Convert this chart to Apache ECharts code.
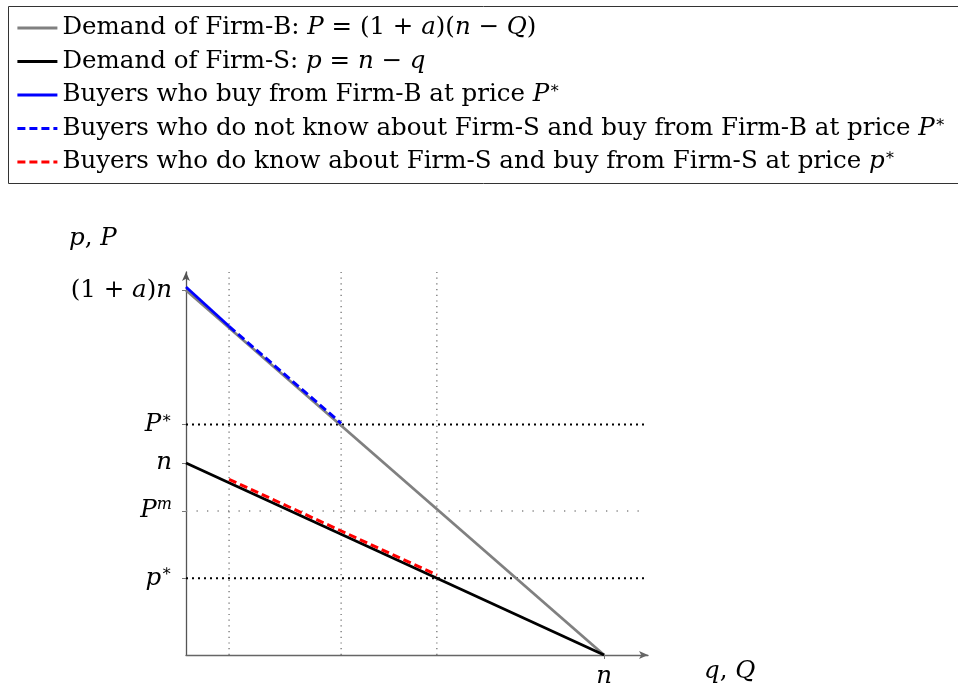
<!DOCTYPE html>
<html>
<head>
<meta charset="utf-8">
<script src="https://cdn.jsdelivr.net/npm/echarts@6/dist/echarts.min.js"></script>
<style>
  html, body { margin: 0; padding: 0; background: #fff; }
  #chart { width: 958px; height: 685px; }
</style>
</head>
<body>
<div id="chart"></div>
<script>
// Market model: n buyers, Firm-B demand P = (1+a)(n-Q), Firm-S demand p = n - q
const N = 1;
// quantities marking the guide lines: informed share, Q*, q*
const qGuides = [0.103, 0.371, 0.6];
// price levels on the vertical axis
const priceValues = [1.9, 1.2, 1.0, 0.75, 0.4];
const priceLabels = ['(1+a)n', 'P*', 'n', 'Pm', 'p*'];
// demand curves (endpoints)
const demandB = [[0, 1.9], [1, 0]];
const demandS = [[0, 1.0], [1, 0]];
// buyer segments, drawn just above the demand curves
const buyersB = [[0, 1.917], [0.103, 1.712]];
const buyersBUninformed = [[0.103, 1.712], [0.371, 1.207]];
const buyersSInformed = [[0.103, 0.915], [0.6, 0.417]];
// horizontal guides: P*, P^m, p*
const hGuideLevels = [1.2, 0.75, 0.4];

const SERIF = '"DejaVu Serif", "Liberation Serif", serif';
const FS = 24.5;

const rich = {
  t: { fontFamily: SERIF, fontSize: FS, lineHeight: 28, color: '#000' },
  i: { fontFamily: SERIF, fontSize: FS, fontStyle: 'italic', lineHeight: 28, color: '#000' },
  sup: { fontFamily: SERIF, fontSize: 16, lineHeight: 14, verticalAlign: 'top', color: '#000' },
  supi: { fontFamily: SERIF, fontSize: 16, fontStyle: 'italic', lineHeight: 14, verticalAlign: 'top', color: '#000' }
};

const names = ['demandB', 'demandS', 'buyersB', 'buyersBU', 'buyersSI'];
const legendText = {
  demandB: '{t|Demand of Firm-B: }{i|P}{t| = (1 + }{i|a}{t|)(}{i|n}{t| − }{i|Q}{t|)}',
  demandS: '{t|Demand of Firm-S: }{i|p}{t| = }{i|n}{t| − }{i|q}',
  buyersB: '{t|Buyers who buy from Firm-B at price }{i|P}{sup|∗}',
  buyersBU: '{t|Buyers who do not know about Firm-S and buy from Firm-B at price }{i|P}{sup|∗}',
  buyersSI: '{t|Buyers who do know about Firm-S and buy from Firm-S at price }{i|p}{sup|∗}'
};
const axisLabelText = {
  '(1+a)n': '{t|(1 + }{i|a}{t|)}{i|n}',
  'P*': '{i|P}{sup|∗}',
  'n': '{i|n}',
  'Pm': '{i|P}{supi|m}',
  'p*': '{i|p}{sup|∗}'
};

function lineSeries(name, data, color, width, dash, z) {
  return {
    name: name, type: 'line', data: data, symbol: 'none', silent: true,
    animation: false, z: z || 5, color: color,
    lineStyle: { color: color, width: width, type: dash || 'solid', cap: 'butt' }
  };
}

const series = [
  lineSeries('demandB', demandB, '#808080', 2.8, null, 4),
  lineSeries('demandS', demandS, '#000000', 2.8, null, 4),
  lineSeries('buyersB', buyersB, '#0000ff', 2.8, null, 6),
  lineSeries('buyersBU', buyersBUninformed, '#0000ff', 3, [8, 4], 6),
  lineSeries('buyersSI', buyersSInformed, '#ff0000', 3, [8, 4], 6)
];

// guide lines
const hStyles = [
  { color: '#000', width: 2, type: [2, 4] },
  { color: '#888', width: 1.3, type: [1.3, 9.2] },
  { color: '#000', width: 2, type: [2, 4] }
];
hGuideLevels.forEach(function (v, k) {
  series.push({
    name: 'h' + k, type: 'line', symbol: 'none', silent: true, animation: false, z: 2,
    data: [[0, v], [1.098, v]], lineStyle: hStyles[k]
  });
});
qGuides.forEach(function (q, k) {
  series.push({
    name: 'v' + k, type: 'line', symbol: 'none', silent: true, animation: false, z: 2,
    data: [[q, 0], [q, 1.995]],
    lineStyle: { color: '#666', width: 1.2, type: [1.2, 4.5] }
  });
});

const chart = echarts.init(document.getElementById('chart'), null, { renderer: 'canvas' });
chart.setOption({
  backgroundColor: '#fff',
  animation: false,
  grid: { left: 186, top: 272, width: 462, height: 383, containLabel: false, outerBoundsMode: 'none' },
  legend: {
    data: names,
    orient: 'vertical',
    left: 16, top: 14,
    itemWidth: 40, itemHeight: 14, itemGap: 5.5,
    padding: 0,
    selectedMode: false,
    itemStyle: { opacity: 0 },
    lineStyle: { width: 2.8 },
    formatter: function (name) { return legendText[name]; },
    textStyle: { rich: rich, lineHeight: 28 }
  },
  xAxis: {
    type: 'value', min: 0, max: 1.105,
    splitLine: { show: false },
    axisLine: { show: true, symbol: ['none', 'arrow'], symbolSize: [6, 9], lineStyle: { color: '#666', width: 1.3 } },
    axisTick: { show: true, customValues: [N], length: 4, inside: false, lineStyle: { color: '#777' } },
    axisLabel: {
      customValues: [N], margin: 8,
      formatter: function () { return '{i|n}'; },
      rich: rich
    }
  },
  yAxis: {
    type: 'value', min: 0, max: 1.995,
    splitLine: { show: false },
    axisLine: { show: true, symbol: ['none', 'arrow'], symbolSize: [6, 9], lineStyle: { color: '#555', width: 1.3 } },
    axisTick: { show: true, customValues: priceValues, length: 4, inside: false, lineStyle: { color: '#777' } },
    axisLabel: {
      customValues: priceValues, margin: 14,
      formatter: function (v) {
        const k = priceValues.indexOf(v);
        return k >= 0 ? axisLabelText[priceLabels[k]] : '';
      },
      rich: rich
    }
  },
  graphic: [
    { type: 'rect', left: 6, top: 4, shape: { width: 950, height: 177 },
      style: { fill: 'none', stroke: '#333', lineWidth: 1 }, silent: true, z: 0 },
    { type: 'text', left: 69, top: 226, silent: true,
      style: { text: '{i|p}{t|, }{i|P}', rich: rich } },
    { type: 'text', left: 704, top: 659, silent: true,
      style: { text: '{i|q}{t|, }{i|Q}', rich: rich } }
  ],
  series: series
});
</script>
</body>
</html>
